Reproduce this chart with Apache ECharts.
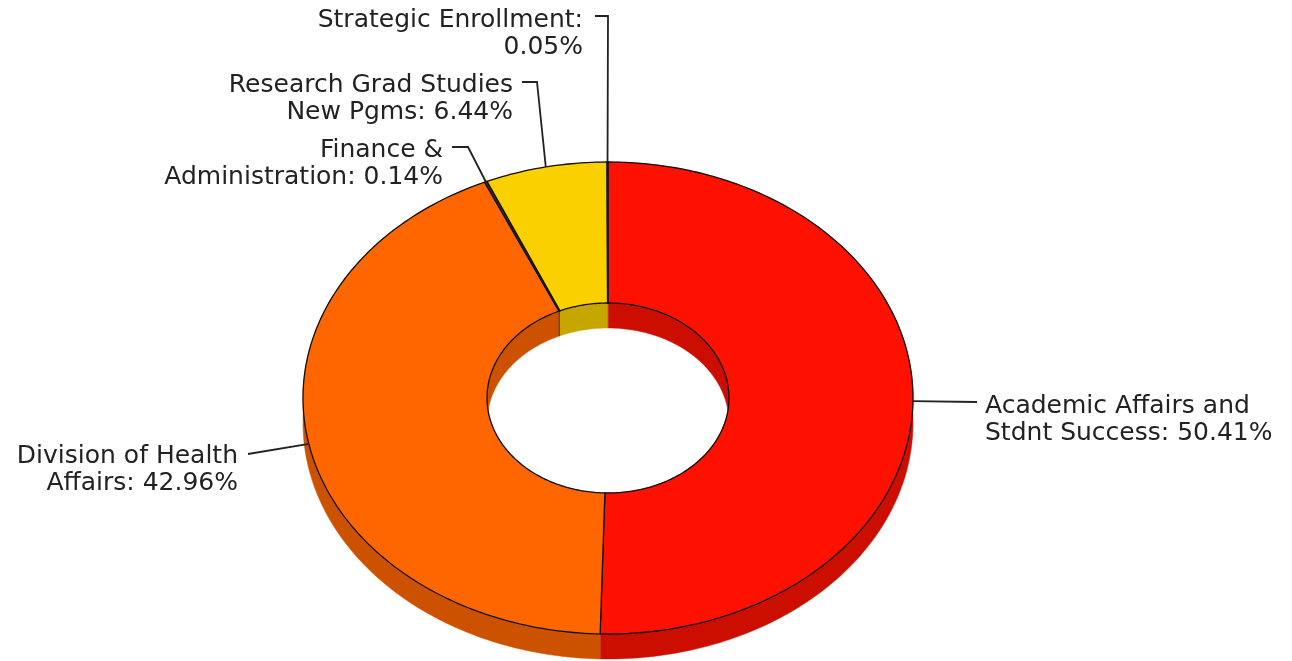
<!DOCTYPE html>
<html>
<head>
<meta charset="utf-8">
<script src="https://cdn.jsdelivr.net/npm/echarts@6/dist/echarts.min.js"></script>
<style>
html, body { margin: 0; padding: 0; background: #fff; }
#main { width: 1292px; height: 661px; }
</style>
</head>
<body>
<div id="main"></div>
<script>
// data, clockwise from 12 o'clock
var names = ['Academic Affairs and\nStdnt Success', 'Division of Health\nAffairs', 'Finance &\nAdministration', 'Research Grad Studies\nNew Pgms', 'Strategic Enrollment'];
var values = [50.41, 42.96, 0.14, 6.44, 0.05];
var topColors = ['#FF1100', '#FF6600', '#4A3300', '#FAD000', '#FF9900'];
var sideColors = ['#CC0E00', '#CC5200', '#3A2800', '#C8A600', '#CC7A00'];

// layout of the fake 3d donut
var CX = 608, CY = 398, RX = 305, RY = 236, IRX = 121, IRY = 95, DEPTH = 25;
// leader lines: elbow point (or null), end point, text x, first line centre y, align
var leaders = [
	{ elbow: null, end: [977, 402], tx: 985, ty: 406.5, align: 'left' },
	{ elbow: null, end: [248, 454], tx: 238, ty: 456, align: 'right' },
	{ elbow: [468, 147], end: [452, 147], tx: 443, ty: 150, align: 'right' },
	{ elbow: [537, 82], end: [522, 82], tx: 513, ty: 85, align: 'right' },
	{ elbow: [608, 16], end: [595, 16], tx: 583, ty: 20, align: 'right' }
];
var LINE_H = 27;
var FONT = '25px "DejaVu Sans", Verdana, sans-serif';

var total = 0;
for (var i = 0; i < values.length; i++) total += values[i];
var starts = [], ends = [];
var acc = 0;
for (var i = 0; i < values.length; i++) {
	starts.push(acc / total * 360);
	acc += values[i];
	ends.push(acc / total * 360);
}

function pt(rx, ry, deg, dy) {
	var a = deg * Math.PI / 180;
	return [CX + rx * Math.sin(a), CY - ry * Math.cos(a) + (dy || 0)];
}
function arc(rx, ry, a0, a1, dy) {
	var pts = [];
	var n = Math.max(1, Math.ceil(a1 - a0));
	for (var k = 0; k <= n; k++) pts.push(pt(rx, ry, a0 + (a1 - a0) * k / n, dy));
	return pts;
}
function band(rx, ry, a0, a1) {
	return arc(rx, ry, a0, a1, 0).concat(arc(rx, ry, a0, a1, DEPTH).reverse());
}
function ringSector(a0, a1) {
	return arc(RX, RY, a0, a1, 0).concat(arc(IRX, IRY, a0, a1, 0).reverse());
}
function labelText(i) {
	var pct = values[i].toFixed(2) + '%';
	if (names[i].indexOf('\n') < 0) return names[i] + ':\n' + pct;
	return names[i] + ': ' + pct;
}

var myChart = echarts.init(document.getElementById('main'));
var option = {
	animation: false,
	backgroundColor: '#fff',
	series: [{
		// outer side wall
		type: 'custom',
		coordinateSystem: 'none',
		silent: true,
		z: 1,
		data: values,
		renderItem: function (params, api) {
			var i = params.dataIndex;
			return {
				type: 'polygon',
				shape: { points: band(RX, RY, starts[i], ends[i]) },
				style: { fill: sideColors[i], stroke: sideColors[i], lineWidth: 0.5 }
			};
		}
	}, {
		// inner wall seen through the hole
		type: 'custom',
		coordinateSystem: 'none',
		silent: true,
		z: 2,
		data: values,
		renderItem: function (params, api) {
			var i = params.dataIndex;
			return {
				type: 'polygon',
				shape: { points: band(IRX, IRY, starts[i], ends[i]) },
				style: { fill: sideColors[i], stroke: sideColors[i], lineWidth: 0.5 }
			};
		}
	}, {
		// top face
		type: 'custom',
		coordinateSystem: 'none',
		z: 3,
		data: values,
		renderItem: function (params, api) {
			var i = params.dataIndex;
			return {
				type: 'polygon',
				shape: { points: ringSector(starts[i], ends[i]) },
				style: { fill: topColors[i], stroke: '#111', lineWidth: 1.3 }
			};
		}
	}, {
		// labels and leader lines
		type: 'custom',
		coordinateSystem: 'none',
		silent: true,
		z: 4,
		data: values,
		renderItem: function (params, api) {
			var i = params.dataIndex;
			var L = leaders[i];
			var p0 = pt(RX, RY, (starts[i] + ends[i]) / 2, 0);
			var pts = [p0];
			if (L.elbow) pts.push(L.elbow);
			pts.push(L.end);
			return {
				type: 'group',
				children: [{
					type: 'polyline',
					shape: { points: pts },
					style: { stroke: '#222', lineWidth: 1.8, fill: null }
				}, {
					type: 'text',
					style: {
						text: labelText(i),
						x: L.tx,
						y: L.ty - LINE_H / 2,
						align: L.align,
						verticalAlign: 'top',
						lineHeight: LINE_H,
						font: FONT,
						fill: '#222'
					}
				}]
			};
		}
	}]
};
myChart.setOption(option);
</script>
</body>
</html>
